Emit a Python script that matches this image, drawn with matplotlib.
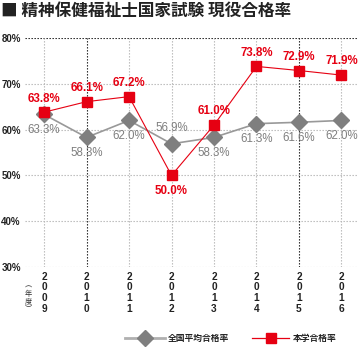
import matplotlib
matplotlib.use("Agg")
import matplotlib.pyplot as plt
from matplotlib.lines import Line2D

plt.rcParams['font.family'] = ['Noto Sans CJK JP', 'DejaVu Sans']

years = ["2009", "2010", "2011", "2012", "2013", "2014", "2015", "2016"]
national_avg = [63.3, 58.3, 62.0, 56.9, 58.3, 61.3, 61.6, 62.0]
our_school = [63.8, 66.1, 67.2, 50.0, 61.0, 73.8, 72.9, 71.9]
y_ticks = [30, 40, 50, 60, 70, 80]
title = "■ 精神保健福祉士国家試験 現役合格率"
legend_labels = ["全国平均合格率", "本学合格率"]

RED = "#e60012"
GRAY = "#7f7f7f"
LINE_GRAY = "#999999"
W, H = 361, 347

fig = plt.figure(figsize=(W/100, H/100), dpi=100)
ax = fig.add_axes([25/W, 1-267/H, (358-25)/W, (267-38)/H])
x = list(range(len(years)))

ax.set_xlim(-0.45, 7.39)
ax.set_ylim(30, 80)

# grid lines
for t in y_ticks:
    c = "#111111" if t == 80 else "#b5b5b5"
    ax.axhline(t, color=c, lw=0.8, ls=(0, (1.2, 1.5)), zorder=1)
for i in x:
    c = "#111111" if years[i] in ("2010", "2015") else "#b5b5b5"
    ax.axvline(i, color=c, lw=0.8, ls=(0, (1.2, 1.5)), zorder=1)

for s in ax.spines.values():
    s.set_visible(False)
num_font = ["Liberation Sans", "DejaVu Sans"]
ax.set_xticks([])
ax.set_yticks(y_ticks)
ax.set_yticklabels([f"{t}%" for t in y_ticks], fontsize=7, fontweight="bold",
                   color="#222222", family=num_font)
ax.tick_params(axis="y", length=0, pad=3)

ax.plot(x, national_avg, color=LINE_GRAY, lw=1.2, marker="D", ms=8,
        mfc=GRAY, mec=GRAY, zorder=3)
ax.plot(x, our_school, color=RED, lw=0.8, marker="s", ms=7.5,
        mfc=RED, mec=RED, zorder=4)

for i, v in enumerate(national_avg):
    above = years[i] == "2012"
    ax.annotate(f"{v:.1f}%", (i, v), xytext=(0, 7 if above else -7),
                textcoords="offset points", ha="center",
                va="bottom" if above else "top", color=GRAY,
                fontsize=8.3, family=num_font, zorder=5)
for i, v in enumerate(our_school):
    below = years[i] == "2012"
    ax.annotate(f"{v:.1f}%", (i, v), xytext=(0, -7 if below else 5.5),
                textcoords="offset points", ha="center",
                va="top" if below else "bottom", color=RED,
                fontsize=8.3, fontweight="bold", family=num_font, zorder=5)

# stacked year labels
for i, yr in enumerate(years):
    ax.text(i, 29.0, "\n".join(yr), ha="center", va="top", fontsize=7.3,
            fontweight="bold", color="#222222", linespacing=1.08,
            family=num_font, clip_on=False)
fig.text(28/W, 1-282/H, "︵\n年\n度\n︶", ha="center", va="top", fontsize=5.2,
         color="#333333", linespacing=0.95)

fig.text(1/W, 1-11/H, title, fontsize=12, fontweight="bold",
         color="#222222", va="center", ha="left")

# legend drawn in pixel positions along the bottom
ly = 1 - 338/H
fig.add_artist(Line2D([125/W, 165/W], [ly, ly], color="#b0b0b0", lw=2))
fig.add_artist(Line2D([145/W], [ly], marker="D", ms=8, mfc=GRAY, mec=GRAY, ls=""))
fig.text(168/W, ly, legend_labels[0], fontsize=6.3, fontweight="bold",
         color="#222222", va="center", ha="left")
fig.add_artist(Line2D([252/W, 289/W], [ly, ly], color=RED, lw=0.9))
fig.add_artist(Line2D([271/W], [ly], marker="s", ms=7.5, mfc=RED, mec=RED, ls=""))
fig.text(293/W, ly, legend_labels[1], fontsize=6.3, fontweight="bold",
         color="#222222", va="center", ha="left")

fig.savefig("out.png", dpi=100)
